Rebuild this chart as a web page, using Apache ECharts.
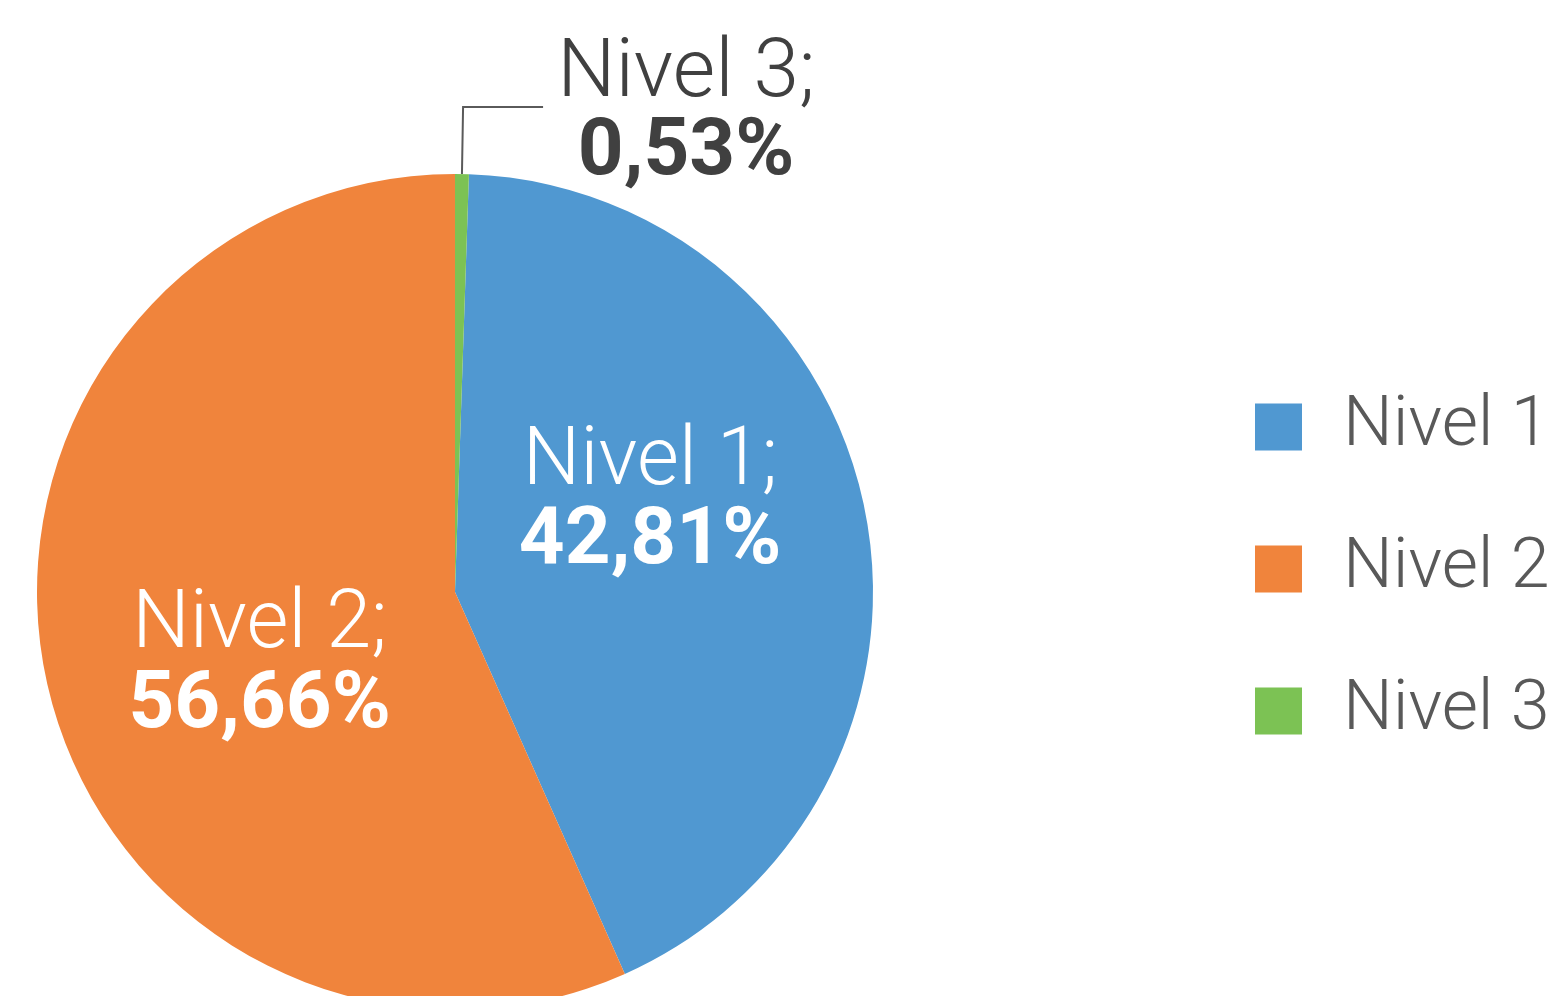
<!DOCTYPE html>
<html>
<head>
<meta charset="utf-8">
<script src="https://cdn.jsdelivr.net/npm/echarts@6/dist/echarts.min.js"></script>
<style>
  html, body { margin: 0; padding: 0; background: #fff; }
  #chart { width: 1549px; height: 996px; }
</style>
</head>
<body>
<div id="chart"></div>
<script>
// datos del gráfico
const categorias = ['Nivel 1', 'Nivel 2', 'Nivel 3']
const porcentajes = [42.81, 56.66, 0.53]
const colores = ['#5098D1', '#F0843C', '#7CC254']

let myChart = echarts.init(document.getElementById('chart'))

let seriesData = []
for (let i = 0; i < categorias.length; i++) {
    seriesData.push({ name: categorias[i], value: porcentajes[i] })
}
// Nivel 3 va fuera con línea guía
seriesData[2].label = {
    position: 'outside',
    color: '#404040',
    rich: {
        n: { fontFamily: 'Roboto', fontWeight: 300, fontSize: 82, lineHeight: 82 },
        v: { fontFamily: 'Roboto', fontWeight: 'bold', fontSize: 80, lineHeight: 76 }
    }
}

// el verde arranca justo a las 12
let startAngle = 90 - porcentajes[2] / 100 * 360

let option = {
    color: colores,
    legend: {
        orient: 'vertical',
        left: 1250,
        top: 387,
        icon: 'rect',
        itemWidth: 47,
        itemHeight: 47,
        itemGap: 72,
        textStyle: {
            fontFamily: 'Roboto',
            fontWeight: 300,
            fontSize: 70,
            lineHeight: 70,
            color: '#595959',
            padding: [0, 0, 0, 36]
        },
        data: categorias
    },
    series: [{
        type: 'pie',
        center: [455, 592],
        radius: 418,
        startAngle: startAngle,
        clockwise: true,
        animation: false,
        label: {
            position: 'inside',
            color: '#fff',
            fontFamily: 'Roboto',
            formatter: function (p) {
                return '{n|' + p.name + ';}\n{v|' + p.value.toFixed(2).replace('.', ',') + '%}'
            },
            rich: {
                n: { fontFamily: 'Roboto', fontWeight: 300, fontSize: 81, lineHeight: 80 },
                v: { fontFamily: 'Roboto', fontWeight: 'bold', fontSize: 80, lineHeight: 80 }
            }
        },
        labelLine: {
            length: 67,
            length2: 80,
            lineStyle: { color: '#5a5a5a', width: 2 }
        },
        labelLayout: function (params) {
            if (params.dataIndex === 0) return { dx: -13, dy: -48 }
            if (params.dataIndex === 1) return { dx: 12, dy: 31 }
            return { align: 'center', dx: 138, dy: 6 }
        },
        data: seriesData
    }]
}
myChart.setOption(option)
window.addEventListener('resize', function () {
    myChart.resize()
})
</script>
</body>
</html>
